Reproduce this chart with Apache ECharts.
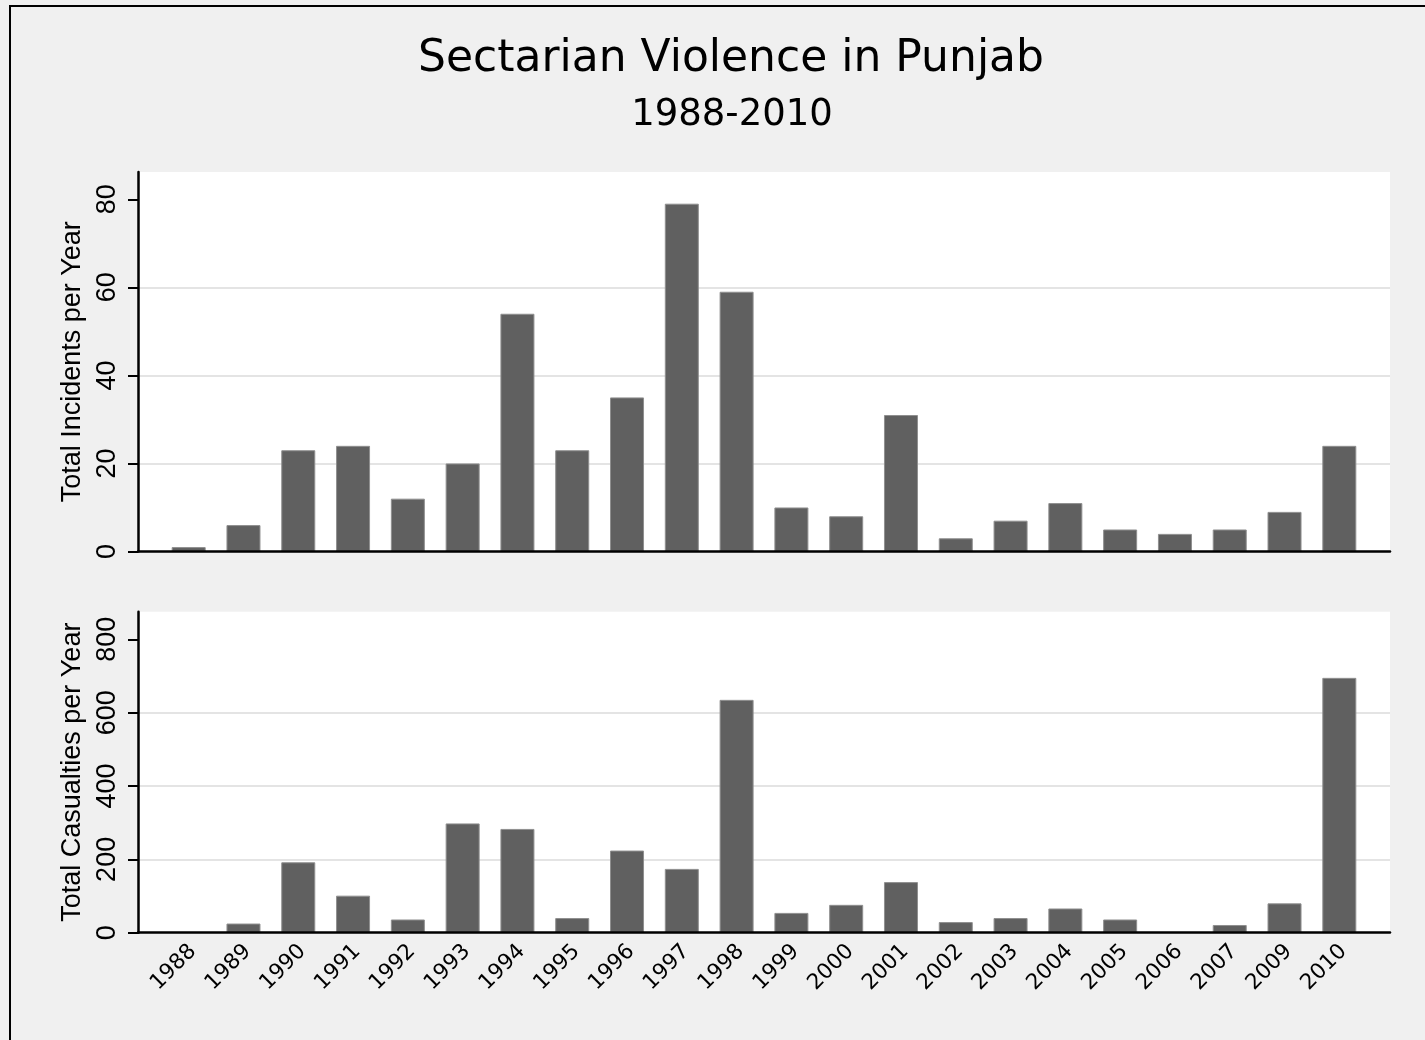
<!DOCTYPE html>
<html>
<head>
<meta charset="utf-8">
<script src="https://cdn.jsdelivr.net/npm/echarts@6/dist/echarts.min.js"></script>
<style>
html,body{margin:0;padding:0;background:#f0f0f0;}
#c{width:1425px;height:1040px;}
</style>
</head>
<body>
<div id="c"></div>
<script>
// ---- data ----
const years = ['1988','1989','1990','1991','1992','1993','1994','1995','1996','1997','1998','1999','2000','2001','2002','2003','2004','2005','2006','2007','2009','2010'];
const incidents = [1,6,23,24,12,20,54,23,35,79,59,10,8,31,3,7,11,5,4,5,9,24];
const casualties = [0,25,192,101,36,298,283,40,224,174,635,54,76,138,29,40,66,36,0,21,80,695];
const incidentTicks = [0,20,40,60,80];
const casualtyTicks = [0,200,400,600,800];
const titleText = 'Sectarian Violence in Punjab';
const subtitleText = '1988-2010';
const incidentName = 'Total Incidents per Year';
const casualtyName = 'Total Casualties per Year';

// ---- chart ----
const idx = years.map((y, i) => i);
const chart = echarts.init(document.getElementById('c'), null, {renderer: 'canvas'});
const BAR = '#606060';
const helv = 'Liberation Sans, Arial, Helvetica, sans-serif';
const lucida = 'DejaVu Sans, sans-serif';

function barData(values) {
  return values.map((v, i) => ({
    value: [idx[i], v],
    itemStyle: v === 0 ? {borderWidth: 0} : {}
  }));
}

function xAxisCfg(gi, showLabels) {
  return {
    type: 'value', gridIndex: gi, min: -0.925, max: 21.925,
    z: 5,
    axisLine: {show: true, onZero: true, lineStyle: {color: '#000', width: 2.5}},
    axisTick: {show: false},
    splitLine: {show: false},
    axisLabel: showLabels ? {
      show: true, customValues: idx,
      formatter: v => years[Math.round(v)],
      rotate: 45, align: 'right', verticalAlign: 'top', margin: 4,
      padding: [0, 5, 0, 0],
      fontFamily: lucida, fontSize: 21.5, color: '#000'
    } : {show: false}
  };
}
function yAxisCfg(gi, max, interval, ticks, name) {
  return {
    type: 'value', gridIndex: gi, min: 0, max: max, interval: interval,
    name: name, nameLocation: 'middle', nameGap: 48, nameRotate: 90,
    nameTextStyle: {fontFamily: helv, fontSize: 27, color: '#000'},
    axisLine: {show: true, onZero: false, lineStyle: {color: '#000', width: 2.5}},
    axisTick: {show: true, customValues: ticks, length: 10, lineStyle: {color: '#000', width: 2}},
    axisLabel: {show: true, customValues: ticks, rotate: 90, margin: 17,
      fontFamily: helv, fontSize: 27, color: '#000'},
    splitLine: {show: true, showMinLine: false, showMaxLine: false,
      lineStyle: {color: '#e4e4e4', width: 2}}
  };
}

const option = {
  backgroundColor: '#f0f0f0',
  animation: false,
  title: [
    {text: titleText, left: 726, top: 33, textAlign: 'center',
      textStyle: {fontFamily: lucida, fontSize: 44, fontWeight: 'normal', color: '#000'}},
    {text: subtitleText, left: 727, top: 92, textAlign: 'center',
      textStyle: {fontFamily: lucida, fontSize: 37, fontWeight: 'normal', color: '#000'}}
  ],
  graphic: [{
    type: 'rect', silent: true, z: 100,
    shape: {x: 10, y: 6, width: 1600, height: 1200},
    style: {fill: 'none', stroke: '#000', lineWidth: 2}
  }],
  grid: [
    {left: 138, right: 35, top: 172, height: 379.5, show: true, backgroundColor: '#ffffff', borderWidth: 0},
    {left: 138, right: 35, top: 611.7, height: 321, show: true, backgroundColor: '#ffffff', borderWidth: 0}
  ],
  xAxis: [xAxisCfg(0, false), xAxisCfg(1, true)],
  yAxis: [
    yAxisCfg(0, 86.2, 20, incidentTicks, incidentName),
    yAxisCfg(1, 875.4, 200, casualtyTicks, casualtyName)
  ],
  series: [
    {type: 'bar', xAxisIndex: 0, yAxisIndex: 0, barWidth: 34,
      data: barData(incidents),
      itemStyle: {color: BAR, borderColor: '#8f8f8f', borderWidth: 1}},
    {type: 'bar', xAxisIndex: 1, yAxisIndex: 1, barWidth: 34,
      data: barData(casualties),
      itemStyle: {color: BAR, borderColor: '#8f8f8f', borderWidth: 1}}
  ]
};
chart.setOption(option);
</script>
</body>
</html>
